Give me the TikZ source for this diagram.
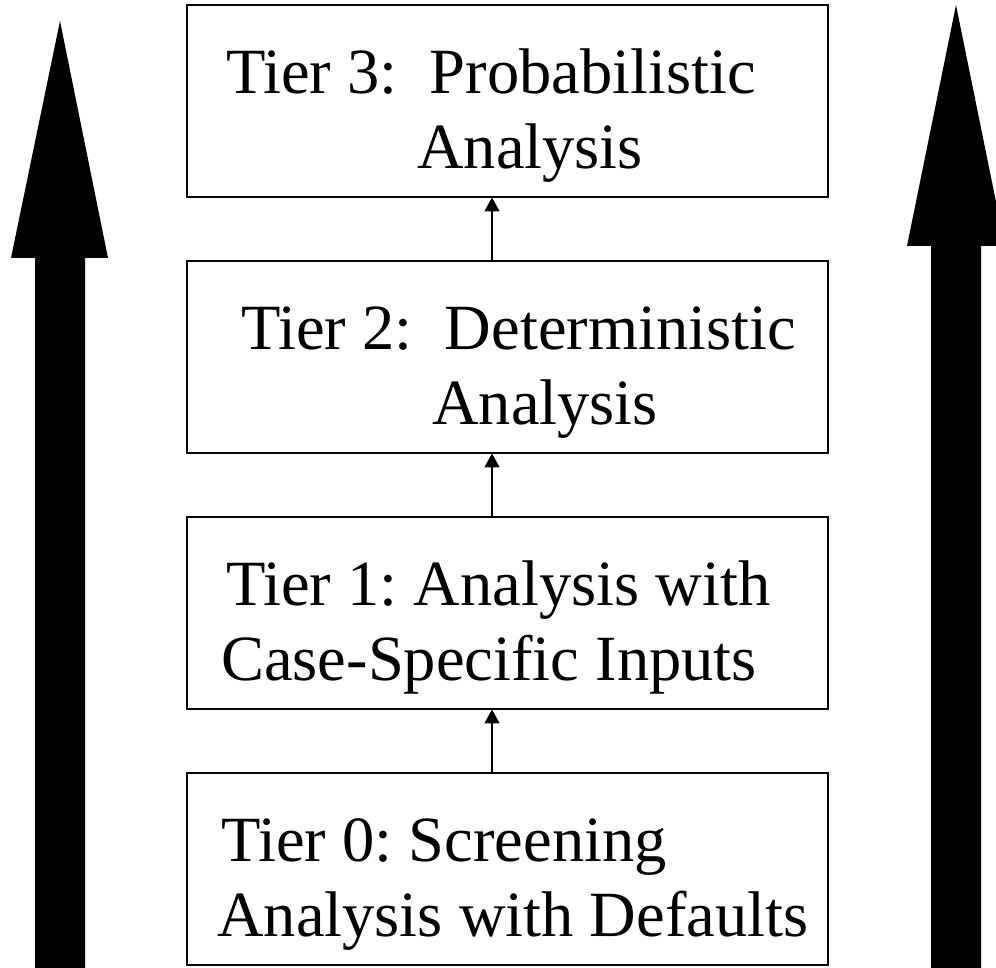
\documentclass[tikz,border=0pt]{standalone}
\usepackage{fontspec}
\setmainfont{Liberation Serif}
\usetikzlibrary{positioning, arrows.meta}

\begin{document}
\frenchspacing
\begin{tikzpicture}[
  x=1pt, y=1pt,
  >={Triangle[length=14pt, width=15pt]},
  tierbox/.style={draw, rectangle, line width=2pt, minimum width=641pt, minimum height=192pt, inner sep=0pt, outer sep=0pt},
  tiertext/.style={anchor=base west, inner sep=0pt, font=\fontsize{64.5}{75}\selectfont},
  flow/.style={->, line width=2pt},
  bigarrow/.style={fill=black}
]
\useasboundingbox (0,0) rectangle (996,968);

% tier boxes
\node[tierbox] (Tier0) at (507.5,98.5) {};
\node[tierbox, above=64pt of Tier0] (Tier1) {};
\node[tierbox, above=64pt of Tier1] (Tier2) {};
\node[tierbox, above=64pt of Tier2] (Tier3) {};

% texts in the boxes
\node[tiertext] (Tier0a) at ([xshift=34pt, yshift=-88pt]Tier0.north west) {Tier 0: Screening};
\node[tiertext] (Tier0b) at ([xshift=30pt, yshift=-163pt]Tier0.north west) {Analysis with Defaults};
\node[tiertext] (Tier1a) at ([xshift=39pt, yshift=-88pt]Tier1.north west) {Tier 1: Analysis with};
\node[tiertext] (Tier1b) at ([xshift=34pt, yshift=-163pt]Tier1.north west) {Case-Specific Inputs};
\node[tiertext] (Tier2a) at ([xshift=54pt, yshift=-88pt]Tier2.north west) {Tier 2:\ \ Deterministic};
\node[tiertext] (Tier2b) at ([xshift=245pt, yshift=-163pt]Tier2.north west) {Analysis};
\node[tiertext] (Tier3a) at ([xshift=39pt, yshift=-88pt]Tier3.north west) {Tier 3:\ \ Probabilistic};
\node[tiertext] (Tier3b) at ([xshift=230pt, yshift=-163pt]Tier3.north west) {Analysis};

% flows between tiers
\draw[flow] ([xshift=-15.5pt]Tier0.north) -- ([xshift=-15.5pt]Tier1.south);
\draw[flow] ([xshift=-15.5pt]Tier1.north) -- ([xshift=-15.5pt]Tier2.south);
\draw[flow] ([xshift=-15.5pt]Tier2.north) -- ([xshift=-15.5pt]Tier3.south);

% big arrows at the sides
\fill[bigarrow] (35,0) -- (35,710) -- (11,710) -- (60,947) -- (108,710) -- (85,710) -- (85,0) -- cycle;
\fill[bigarrow] (931,0) -- (931,722) -- (907,722) -- (956,963) -- (1005,722) -- (981,722) -- (981,0) -- cycle;

\end{tikzpicture}
\end{document}
